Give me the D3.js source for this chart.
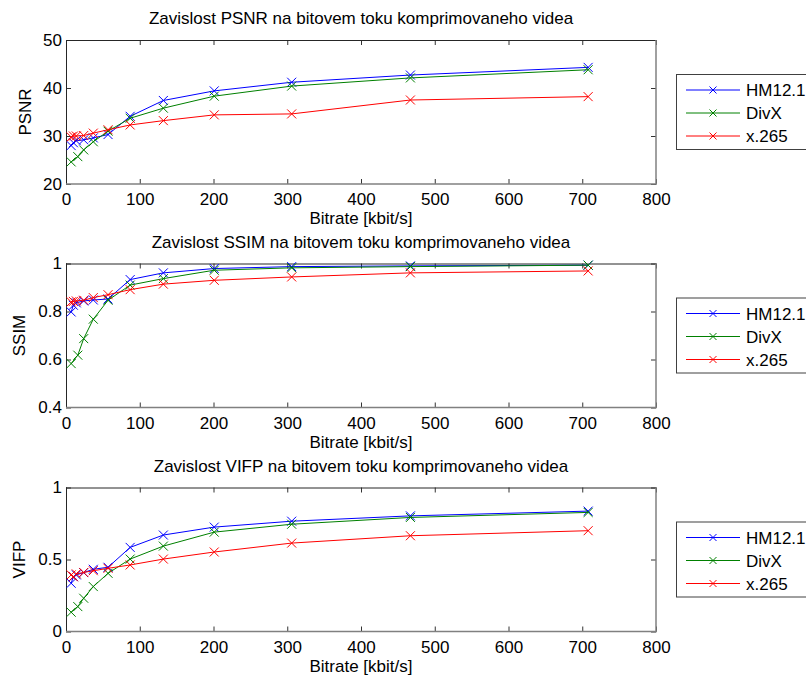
<!DOCTYPE html>
<html>
<head>
<meta charset="utf-8">
<script src="https://cdn.jsdelivr.net/npm/d3@7"></script>
<style>
  html, body { margin: 0; padding: 0; background: #fff; }
  svg { display: block; font-family: "Liberation Sans", Arial, sans-serif; }
</style>
</head>
<body>
<svg id="chart" width="806" height="682"></svg>
<script>
// Bitrate samples of each encoder [kbit/s]
const bitrateHM   = [7, 10, 14, 24, 37, 57, 87, 132, 201, 306, 467, 708];
const bitrateDivX = [7, 16, 24, 37, 57, 87, 132, 201, 306, 467, 708];
const bitrateX265 = [7, 10, 14, 24, 37, 57, 87, 132, 201, 306, 467, 708];

// PSNR [dB]
const psnrHM   = [28.0, 28.6, 29.0, 29.2, 29.6, 30.3, 34.1, 37.4, 39.4, 41.2, 42.7, 44.3];
const psnrDivX = [24.6, 25.7, 27.1, 28.8, 31.0, 33.7, 35.8, 38.3, 40.4, 42.1, 43.8];
const psnrX265 = [29.8, 30.0, 30.0, 30.1, 30.6, 31.3, 32.3, 33.2, 34.4, 34.6, 37.5, 38.2];

// SSIM
const ssimHM   = [0.798, 0.826, 0.836, 0.844, 0.848, 0.852, 0.933, 0.961, 0.979, 0.987, 0.990, 0.993];
const ssimDivX = [0.583, 0.618, 0.687, 0.768, 0.847, 0.910, 0.937, 0.972, 0.982, 0.987, 0.993];
const ssimX265 = [0.840, 0.842, 0.844, 0.847, 0.858, 0.870, 0.891, 0.914, 0.930, 0.944, 0.961, 0.969];

// VIFP
const vifpHM   = [0.335, 0.381, 0.393, 0.409, 0.432, 0.446, 0.584, 0.670, 0.725, 0.766, 0.803, 0.836];
const vifpDivX = [0.134, 0.173, 0.231, 0.312, 0.404, 0.503, 0.593, 0.690, 0.745, 0.792, 0.827];
const vifpX265 = [0.393, 0.380, 0.400, 0.410, 0.422, 0.439, 0.462, 0.503, 0.552, 0.614, 0.665, 0.700];

// Axis ticks
const bitrateTicks = [0, 100, 200, 300, 400, 500, 600, 700, 800];
const psnrTicks = [20, 30, 40, 50];
const ssimTicks = [0.4, 0.6, 0.8, 1];
const vifpTicks = [0, 0.5, 1];

const seriesNames = ["HM12.1", "DivX", "x.265"];
const seriesColors = ["#0000ff", "#008000", "#ff0000"];

const panels = [
  { title: "Zavislost PSNR na bitovem toku komprimovaneho videa", ylabel: "PSNR",
    domain: [20, 50], ticks: psnrTicks, ys: [psnrHM, psnrDivX, psnrX265] },
  { title: "Zavislost SSIM na bitovem toku komprimovaneho videa", ylabel: "SSIM",
    domain: [0.4, 1], ticks: ssimTicks, ys: [ssimHM, ssimDivX, ssimX265] },
  { title: "Zavislost VIFP na bitovem toku komprimovaneho videa", ylabel: "VIFP",
    domain: [0, 1], ticks: vifpTicks, ys: [vifpHM, vifpDivX, vifpX265] }
];
const xsAll = [bitrateHM, bitrateDivX, bitrateX265];

const svg = d3.select("#chart");
const left = 66, width = 590, height = 144;
const tops = [40, 263.5, 487.5];
const fontSize = 17;

const x = d3.scaleLinear().domain([0, 800]).range([left, left + width]);

function xMarker(g, cx, cy, r, color) {
  g.append("path")
    .attr("d", `M${cx - r},${cy - r}L${cx + r},${cy + r}M${cx - r},${cy + r}L${cx + r},${cy - r}`)
    .attr("stroke", color).attr("stroke-width", 1).attr("fill", "none");
}

panels.forEach((p, i) => {
  const top = tops[i];
  const y = d3.scaleLinear().domain(p.domain).range([top + height, top]);
  const g = svg.append("g");

  // Ticks pointing into the plot on all four sides
  const bottomAxis = d3.axisBottom(x).tickValues(bitrateTicks).tickSize(-5).tickPadding(9).tickFormat(d3.format("d"));
  const gb = g.append("g").attr("transform", `translate(0,${top + height})`).call(bottomAxis);
  const topAxis = d3.axisTop(x).tickValues(bitrateTicks).tickSize(-5).tickFormat("");
  const gt = g.append("g").attr("transform", `translate(0,${top})`).call(topAxis);
  const leftAxis = d3.axisLeft(y).tickValues(p.ticks).tickSize(-5).tickPadding(4).tickFormat(d3.format("~g"));
  const gl = g.append("g").attr("transform", `translate(${left},0)`).call(leftAxis);
  const rightAxis = d3.axisRight(y).tickValues(p.ticks).tickSize(-5).tickFormat("");
  const gr = g.append("g").attr("transform", `translate(${left + width},0)`).call(rightAxis);

  [gb, gt, gl, gr].forEach(a => {
    a.select(".domain").remove();
    a.selectAll(".tick line").attr("stroke", "#333");
    a.selectAll("text").attr("font-size", fontSize).attr("fill", "#000")
      .attr("font-family", "Liberation Sans, Arial, sans-serif");
  });

  // Axes box
  g.append("line").attr("x1", left).attr("x2", left + width).attr("y1", top + 0.5).attr("y2", top + 0.5)
    .attr("stroke", "#262626");
  g.append("line").attr("x1", left + 0.5).attr("x2", left + 0.5).attr("y1", top).attr("y2", top + height)
    .attr("stroke", "#262626");
  g.append("line").attr("x1", left).attr("x2", left + width + 1).attr("y1", top + height).attr("y2", top + height)
    .attr("stroke", "#808080").attr("stroke-width", 1.5);
  g.append("line").attr("x1", left + width).attr("x2", left + width).attr("y1", top).attr("y2", top + height)
    .attr("stroke", "#808080").attr("stroke-width", 1.5);

  // Series lines and markers
  p.ys.forEach((vals, s) => {
    const xs = xsAll[s];
    const pts = vals.map((v, k) => [x(xs[k]), y(v)]);
    g.append("path").attr("d", d3.line()(pts)).attr("fill", "none")
      .attr("stroke", seriesColors[s]).attr("stroke-width", 1);
    pts.forEach(pt => xMarker(g, pt[0], pt[1], 4.5, seriesColors[s]));
  });

  // Title and labels
  g.append("text").attr("x", left + width / 2).attr("y", top - 16)
    .attr("text-anchor", "middle").attr("font-size", fontSize).text(p.title);
  g.append("text").attr("x", left + width / 2).attr("y", top + height + 40)
    .attr("text-anchor", "middle").attr("font-size", fontSize).text("Bitrate [kbit/s]");
  g.append("text").attr("transform", `translate(${i === 0 ? 31 : 25},${top + height / 2}) rotate(-90)`)
    .attr("text-anchor", "middle").attr("font-size", fontSize).text(p.ylabel);

  // Legend
  const lt = top + 35;
  const lg = g.append("g");
  lg.append("rect").attr("x", 676.5).attr("y", lt - 0.5).attr("width", 140).attr("height", 75)
    .attr("fill", "#fff").attr("stroke", "#404040");
  seriesNames.forEach((name, s) => {
    const ly = lt + 15 + s * 23;
    lg.append("line").attr("x1", 686).attr("x2", 740).attr("y1", ly).attr("y2", ly)
      .attr("stroke", seriesColors[s]);
    xMarker(lg, 713, ly, 3.5, seriesColors[s]);
    lg.append("text").attr("x", 746).attr("y", ly + 6).attr("font-size", fontSize).text(name);
  });
});
</script>
</body>
</html>
